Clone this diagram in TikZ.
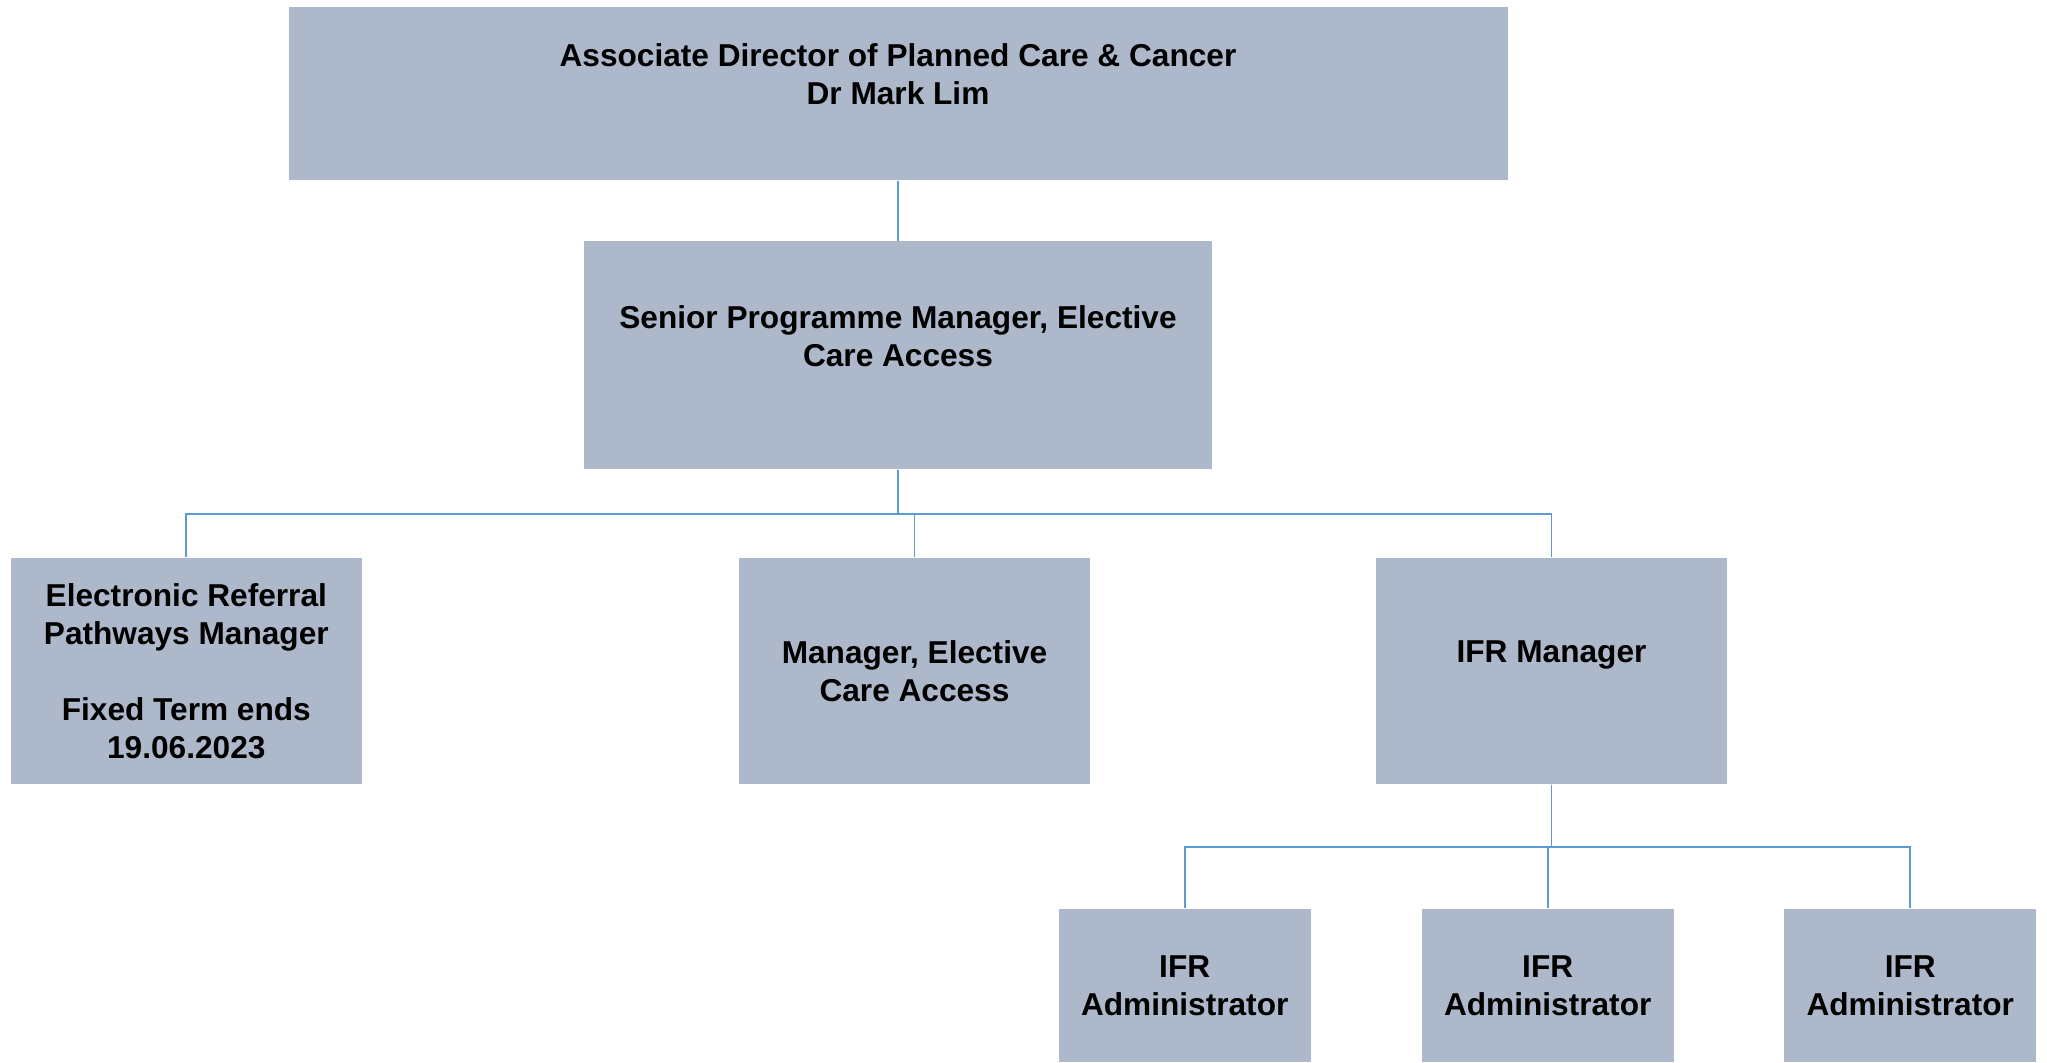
\documentclass[tikz,border=0pt]{standalone}
\usepackage{fontspec}
\setmainfont{Liberation Sans}
\usetikzlibrary{calc}

\definecolor{boxgray}{RGB}{173,185,202}
\definecolor{linkblue}{RGB}{91,155,213}

\tikzset{
  role/.style={fill=boxgray, inner sep=0pt, align=center,
    font=\fontsize{9pt}{10.8pt}\selectfont\bfseries},
  link/.style={linkblue, line width=0.55pt}
}

\begin{document}
\begin{tikzpicture}
\useasboundingbox (0,0) rectangle (20.47,-10.63);
% top level
\node[role, minimum width=12.19cm, minimum height=1.735cm] (adir) at (8.98,-0.933)
  {Associate Director of Planned Care \& Cancer\\Dr Mark Lim\\\mbox{}};
\node[role, minimum width=6.28cm, minimum height=2.275cm] (spm) at (8.98,-3.552)
  {Senior Programme Manager, Elective\\Care Access\\\mbox{}};
% second row
\node[role, minimum width=3.51cm, minimum height=2.26cm] (erp) at (1.863,-6.71)
  {Electronic Referral\\Pathways Manager\\\mbox{}\\Fixed Term ends\\19.06.2023};
\node[role, minimum width=3.51cm, minimum height=2.26cm] (meca) at (9.145,-6.71)
  {Manager, Elective\\Care Access};
\node[role, minimum width=3.51cm, minimum height=2.26cm] (ifrm) at (15.515,-6.71)
  {IFR Manager\\\mbox{}};
% admins
\node[role, minimum width=2.52cm, minimum height=1.53cm] (adm1) at (11.847,-9.855)
  {IFR\\Administrator};
\node[role, minimum width=2.52cm, minimum height=1.53cm] (adm2) at (15.477,-9.855)
  {IFR\\Administrator};
\node[role, minimum width=2.52cm, minimum height=1.53cm] (adm3) at (19.102,-9.855)
  {IFR\\Administrator};

\draw[link] (adir.south) -- (spm.north);
\draw[link] (spm.south) -- ++(0,-0.44) -| (erp.north);
\draw[link] (spm.south) -- ++(0,-0.44) -| (meca.north);
\draw[link] (spm.south) -- ++(0,-0.44) -| (ifrm.north);
\draw[link] (ifrm.south) -- ++(0,-0.62) -| (adm1.north);
\draw[link] (ifrm.south) -- ++(0,-0.62) -| (adm2.north);
\draw[link] (ifrm.south) -- ++(0,-0.62) -| (adm3.north);
\end{tikzpicture}
\end{document}
